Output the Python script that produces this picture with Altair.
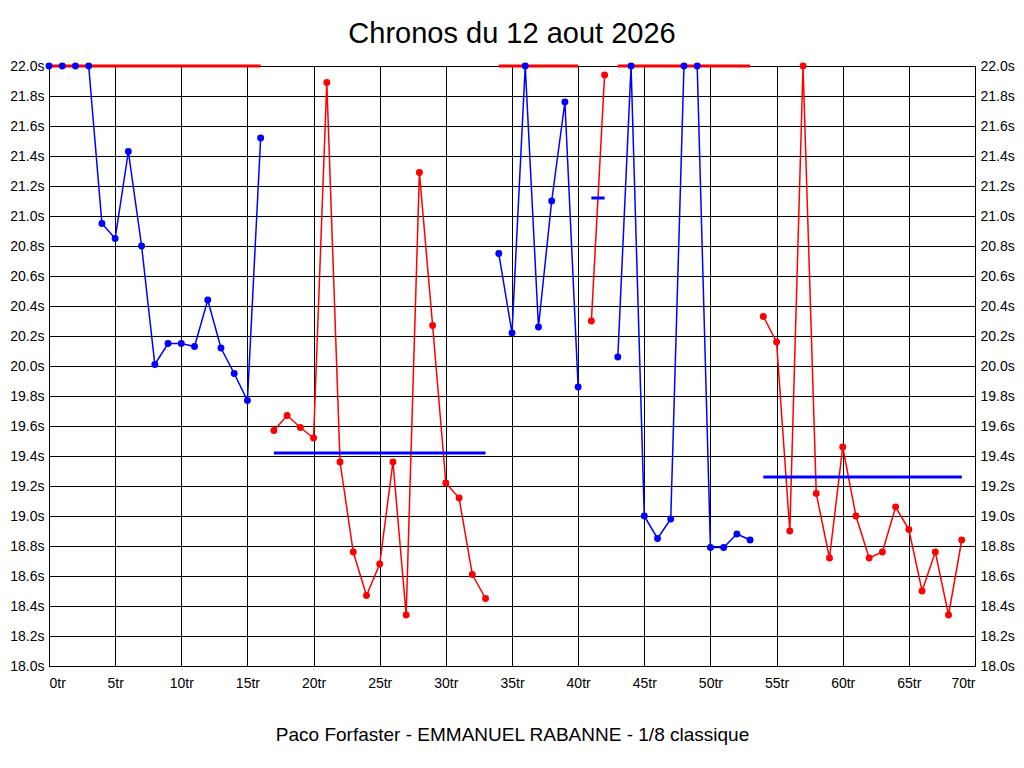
import altair as alt
import pandas as pd

TITLE = "Chronos du 12 aout 2026"
SUBTITLE = "Paco Forfaster - EMMANUEL RABANNE - 1/8 classique"

# lap times (seconds) per relay segment, with first lap number and colour
seg_starts = [0, 17, 34, 41, 43, 54]
seg_colors = ["blue", "red", "blue", "red", "blue", "red"]
seg_times = [
    [22.0, 22.0, 22.0, 22.0, 20.95, 20.85, 21.43, 20.80, 20.01, 20.15, 20.15, 20.13, 20.44, 20.12, 19.95, 19.77, 21.52],
    [19.57, 19.67, 19.59, 19.52, 21.89, 19.36, 18.76, 18.47, 18.68, 19.36, 18.34, 21.29, 20.27, 19.22, 19.12, 18.61, 18.45],
    [20.75, 20.22, 22.0, 20.26, 21.10, 21.76, 19.86],
    [20.30, 21.94],
    [20.06, 22.0, 19.00, 18.85, 18.98, 22.0, 22.0, 18.79, 18.79, 18.88, 18.84],
    [20.33, 20.16, 18.90, 22.0, 19.15, 18.72, 19.46, 19.00, 18.72, 18.76, 19.06, 18.91, 18.50, 18.76, 18.34, 18.84],
]

# average lines per segment
avg_start = [0, 17, 34, 41, 43, 54]
avg_end = [16, 33, 40, 42, 53, 69]
avg_value = [22.0, 19.42, 22.0, 21.12, 22.0, 19.26]
avg_color = ["red", "blue", "red", "blue", "red", "blue"]

y_ticks = [18.0, 18.2, 18.4, 18.6, 18.8, 19.0, 19.2, 19.4, 19.6, 19.8, 20.0,
           20.2, 20.4, 20.6, 20.8, 21.0, 21.2, 21.4, 21.6, 21.8, 22.0]
x_ticks = [0, 5, 10, 15, 20, 25, 30, 35, 40, 45, 50, 55, 60, 65, 70]

rows = []
for i, (s, c, times) in enumerate(zip(seg_starts, seg_colors, seg_times)):
    for k, t in enumerate(times):
        rows.append({"lap": s + k, "time": t, "seg": i, "color": c})
df = pd.DataFrame(rows)

avg_df = pd.DataFrame({"x": avg_start, "x2": avg_end, "y": avg_value, "color": avg_color})

FONT = "Liberation Sans"
color_scale = alt.Scale(domain=["blue", "red"], range=["#0000ff", "#ff0000"])
xs = alt.Scale(domain=[0, 70], nice=False, zero=False)
ys = alt.Scale(domain=[18, 22], nice=False, zero=False)

x_axis = alt.Axis(values=x_ticks, labelExpr="datum.value + 'tr'", grid=True, gridColor="black",
                  gridOpacity=1, gridWidth=1, ticks=False, domain=False, labelPadding=10,
                  labelFontSize=14, labelColor="black", labelFont=FONT,
                  title=SUBTITLE, titleFont=FONT, titleFontSize=19, titleFontWeight="normal",
                  titleColor="black", titlePadding=35)
y_axis_left = alt.Axis(values=y_ticks, labelExpr="format(datum.value, '.1f') + 's'", grid=True,
                       gridColor="black", gridOpacity=1, gridWidth=1, ticks=False, domain=False,
                       labelPadding=5, labelFontSize=14, labelColor="black", labelFont=FONT,
                       title=None, orient="left")
y_axis_right = alt.Axis(values=y_ticks, labelExpr="format(datum.value, '.1f') + 's'", grid=False,
                        ticks=False, domain=False, labelPadding=5, labelFontSize=14,
                        labelColor="black", labelFont=FONT, title=None, orient="right")

lines = alt.Chart(df).mark_line(strokeWidth=1.5).encode(
    x=alt.X("lap:Q", scale=xs, axis=x_axis),
    y=alt.Y("time:Q", scale=ys, axis=y_axis_left),
    color=alt.Color("color:N", scale=color_scale, legend=None),
    detail="seg:N",
)

rules = alt.Chart(avg_df).mark_rule(strokeWidth=3).encode(
    x=alt.X("x:Q", scale=xs),
    x2="x2:Q",
    y=alt.Y("y:Q", scale=ys, axis=y_axis_right),
    color=alt.Color("color:N", scale=color_scale, legend=None),
)

points = alt.Chart(df).mark_circle(size=48, opacity=1).encode(
    x=alt.X("lap:Q", scale=xs),
    y=alt.Y("time:Q", scale=ys, axis=None),
    color=alt.Color("color:N", scale=color_scale, legend=None),
)

chart = alt.layer(lines, rules, points).resolve_axis(y="independent").properties(
    width=926,
    height=600,
    padding={"left": 41, "top": 58, "right": 41, "bottom": 86},
    autosize="none",
    title=alt.TitleParams(TITLE, font=FONT, fontSize=29, fontWeight="normal", color="black",
                          anchor="middle", offset=10),
).configure(background="white").configure_view(stroke="black", strokeWidth=1)

chart.save("out.html", embed_options={"renderer": "svg", "actions": False})
